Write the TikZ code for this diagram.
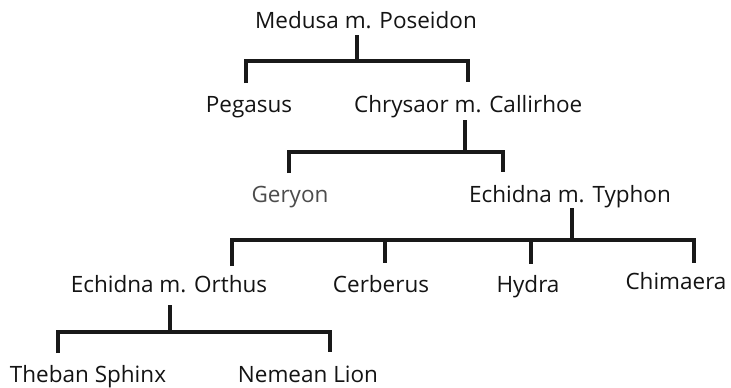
\documentclass[tikz,border=0pt]{standalone}
\usepackage{fontspec}
\setmainfont{Open Sans}
\begin{document}
\begin{tikzpicture}[x=1pt,y=-1pt,
  lbl/.style={inner sep=0pt,anchor=base,font=\fontsize{22.5}{26}\selectfont,text=black!92},
  link/.style={line width=3.6pt,line cap=butt,line join=miter,draw=black!90}]
\useasboundingbox[fill=white] (0,0) rectangle (731,388);
% names
\node[lbl] (medusa) at (366,28) {Medusa m. Poseidon};
\node[lbl] (pegasus) at (249,112) {Pegasus};
\node[lbl,anchor=base west] (chrysaor) at (354,112) {Chrysaor m. Callirhoe};
\node[lbl,text=black!70] (geryon) at (290,202) {Geryon};
\node[lbl] (typhon) at (570,202) {Echidna m. Typhon};
\node[lbl] (orthus) at (169,292) {Echidna m. Orthus};
\node[lbl] (cerberus) at (381,292) {Cerberus};
\node[lbl] (hydra) at (528,292) {Hydra};
\node[lbl] (chimaera) at (676,289) {Chimaera};
\node[lbl] (sphinx) at (88,382) {Theban Sphinx};
\node[lbl] (lion) at (308,382) {Nemean Lion};
% family 1
\coordinate (f1top) at (357,35);
\coordinate (f1l) at (246,61);
\coordinate (f1r) at (468,61);
\coordinate (f1lb) at (246,83);
\coordinate (f1rb) at (468,82);
\draw[link] (f1top) -- (f1top |- f1l);
\draw[link] (f1lb) -- (f1l) -- (f1r) -- (f1rb);
% family 2
\coordinate (f2top) at (465,120);
\coordinate (f2l) at (289,152);
\coordinate (f2r) at (503,152);
\coordinate (f2lb) at (289,173);
\coordinate (f2rb) at (503,172);
\draw[link] (f2top) -- (f2top |- f2l);
\draw[link] (f2lb) -- (f2l) -- (f2r) -- (f2rb);
% family 3
\coordinate (f3top) at (572,208);
\coordinate (f3l) at (232,240);
\coordinate (f3r) at (694,240);
\coordinate (f3lb) at (232,266);
\coordinate (f3rb) at (694,263);
\coordinate (f3c) at (385,240);
\coordinate (f3cb) at (385,263);
\coordinate (f3h) at (531,240);
\coordinate (f3hb) at (531,264);
\draw[link] (f3top) -- (f3top |- f3l);
\draw[link] (f3lb) -- (f3l) -- (f3r) -- (f3rb);
\draw[link] (f3c) -- (f3cb);
\draw[link] (f3h) -- (f3hb);
% family 4
\coordinate (f4top) at (170,305);
\coordinate (f4l) at (58,332);
\coordinate (f4r) at (330,332);
\coordinate (f4lb) at (58,353);
\coordinate (f4rb) at (330,352);
\draw[link] (f4top) -- (f4top |- f4l);
\draw[link] (f4lb) -- (f4l) -- (f4r) -- (f4rb);
\end{tikzpicture}
\end{document}
